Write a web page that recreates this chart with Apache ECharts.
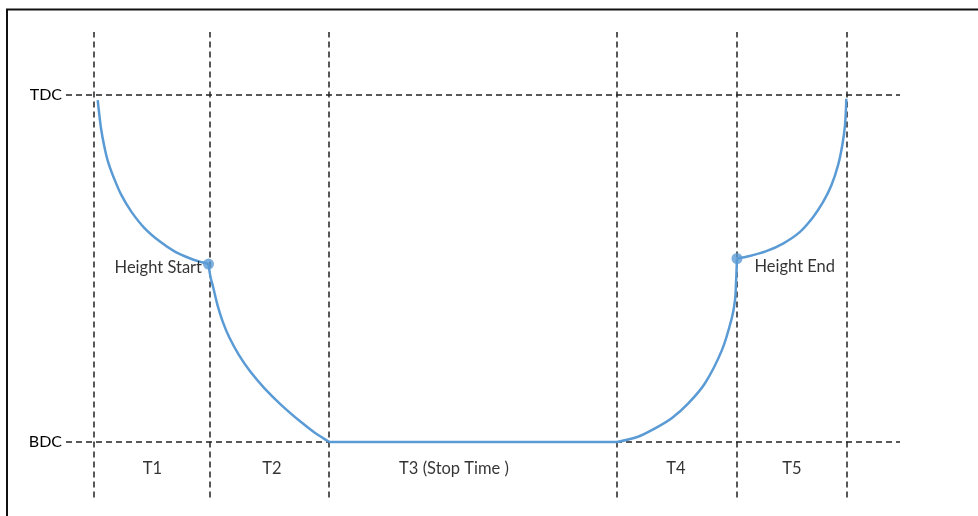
<!DOCTYPE html>
<html>
<head>
<meta charset="utf-8">
<script src="https://cdn.jsdelivr.net/npm/echarts@6/dist/echarts.min.js"></script>
<style>
html,body{margin:0;padding:0;background:#fff;}
#chart{width:978px;height:516px;}
</style>
</head>
<body>
<div id="chart"></div>
<script>
// Phase boundaries on the time axis
var boundaries = [0, 116, 235, 523, 643, 753];
// Stroke reference levels
var levelValues = [100, 0];
var levelNames = ['TDC', 'BDC'];
// Phase labels and their time positions
var phaseNames = ['T1', 'T2', 'T3 (Stop Time )', 'T4', 'T5'];
var phaseLabelX = [58.5, 178, 360, 582, 698];
var phaseLabelY = -7.8;
// Curve segments [time, height]
var arc1 = [[3.7, 98.4], [5.0, 95.0], [7.0, 90.3], [10, 85.5], [14, 80.7], [20, 75.9], [27.3, 71.1],
            [37.3, 66.3], [50.7, 61.5], [66.3, 57.6], [81.3, 54.7], [96.3, 52.8], [108, 51.7], [114.5, 51.2]];
var arc2 = [[114.5, 51.2], [116.5, 47.5], [119.3, 44.4], [123.5, 39.4], [128.9, 34.5], [135.6, 29.9], [145, 25.0],
            [155.9, 20.4], [170.3, 15.5], [186.3, 10.9], [205.8, 6.0], [220.1, 2.8], [229.1, 1.1], [235, 0]];
var flat = [[235, 0], [523, 0]];
var arc3 = [[523, 0], [544, 1.5], [561, 3.9], [578, 6.9], [594.3, 11.1], [611, 16.9], [628, 26.5],
            [638, 35.9], [641, 40.8], [642, 45.7], [643, 52.8]];
var arc4 = [[643, 52.8], [655.7, 53.5], [672.3, 54.9], [689, 57.1], [705.7, 60.4], [719, 64.7], [729, 69.0],
            [737.3, 73.8], [744, 79.6], [748.3, 85.4], [751, 91.1], [752.3, 98.8]];
// Key points
var keyNames = ['Height Start', 'Height End'];
var keyPoints = [[114.5, 51.2], [643, 52.8]];

var FONT = 'Lato';
var BLUE = '#5B9BD5';
var TEXT = '#000';
var dashStyle = {color: '#222', width: 1.5, type: [6, 4]};

function curve(data, extra) {
  var s = {
    type: 'line', data: data, smooth: 0.35, showSymbol: false, symbol: 'none',
    lineStyle: {color: BLUE, width: 2.5}, silent: true, z: 3
  };
  if (extra) for (var k in extra) s[k] = extra[k];
  return s;
}

var markLineData = boundaries.map(function (b) { return {xAxis: b, label: {show: false}}; })
  .concat(levelValues.map(function (v, i) {
    return {yAxis: v, label: {show: true, position: 'start', formatter: levelNames[i], distance: 4,
      color: TEXT, fontFamily: FONT, fontSize: 16}};
  }));

var chart = echarts.init(document.getElementById('chart'), null, {renderer: 'canvas'});
chart.setOption({
  animation: false,
  backgroundColor: '#fff',
  graphic: [{
    type: 'rect', shape: {x: 7, y: 9.5, width: 1000, height: 600},
    style: {fill: 'none', stroke: '#111', lineWidth: 2}, silent: true
  }],
  grid: {left: 66, right: 78, top: 32, bottom: 18.5},
  xAxis: {type: 'value', min: -28, max: 806, show: false},
  yAxis: {type: 'value', min: -16, max: 118, show: false},
  series: [
    curve(arc1, {markLine: {symbol: 'none', silent: true, lineStyle: dashStyle, data: markLineData, z: 1}}),
    curve(arc2),
    curve(flat, {smooth: false}),
    curve(arc3),
    curve(arc4),
    {
      type: 'scatter', symbolSize: 11, z: 4,
      itemStyle: {color: BLUE},
      data: keyPoints.map(function (p, i) {
        return {value: p, name: keyNames[i], label: i === 0
          ? {show: true, position: 'left', distance: 1, offset: [0, 4]}
          : {show: true, position: 'right', distance: 12, offset: [0, 8]}};
      }),
      label: {formatter: '{b}', color: TEXT, fontFamily: FONT, fontSize: 16.5}
    },
    {
      type: 'scatter', symbolSize: 0, z: 4,
      data: phaseNames.map(function (n, i) { return {value: [phaseLabelX[i], phaseLabelY], name: n}; }),
      label: {show: true, position: 'inside', formatter: '{b}', color: TEXT, fontFamily: FONT, fontSize: 16.5}
    }
  ]
});
</script>
</body>
</html>
